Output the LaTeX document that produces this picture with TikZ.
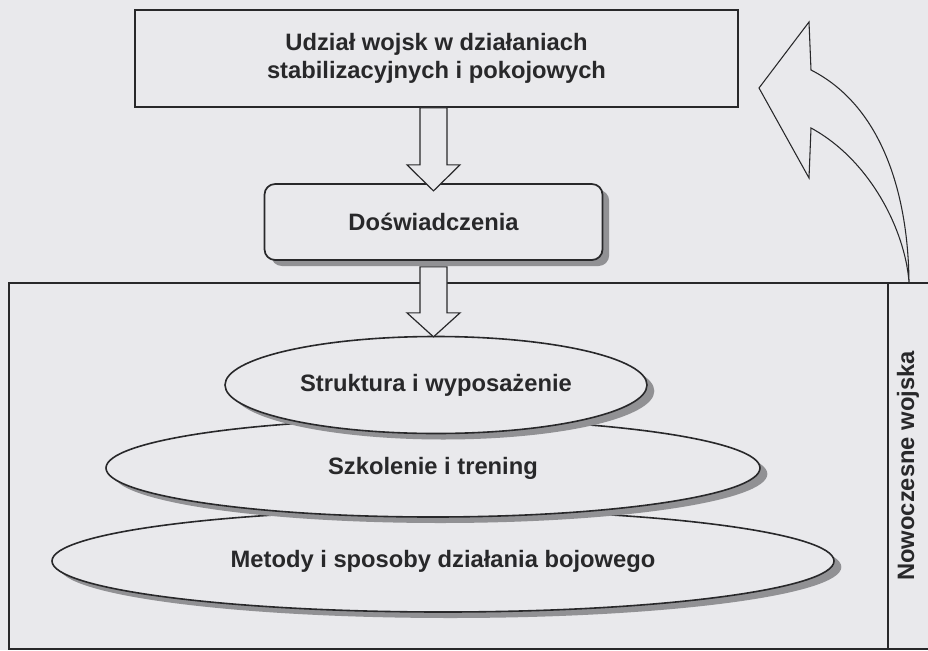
\documentclass[tikz,border=0pt]{standalone}
\usepackage{fontspec}
\setmainfont{Liberation Sans}
\usepackage{tikz}
\usetikzlibrary{calc,positioning,shapes.geometric,shadows}

\definecolor{paper}{RGB}{233,233,236}
\definecolor{ink}{RGB}{40,40,42}
\definecolor{shade}{RGB}{145,145,148}

\begin{document}
\begin{tikzpicture}[
  x=0.75pt, y=-0.75pt,
  font=\fontsize{17.8}{20.5}\selectfont\bfseries,
  every node/.style={text=ink},
  box/.style={draw=ink, line width=1.3pt, fill=paper, align=center, inner sep=0pt},
  layer/.style={ellipse, draw=ink, line width=1.2pt, fill=paper, inner sep=0pt,
    drop shadow={shadow xshift=5.5pt, shadow yshift=-4.5pt, fill=shade, opacity=1}},
  blk/.style={draw=ink, line width=0.9pt, fill=paper, line join=miter},
]
  \useasboundingbox[fill=paper] (0,0) rectangle (928,650);

  % outer frame with side column
  \node[draw=ink, line width=1.3pt, anchor=north west, minimum width=699pt,
    minimum height=274.5pt, inner sep=0pt] (frame) at (8,282) {};
  \node[draw=ink, line width=1.3pt, anchor=north west, minimum width=60pt,
    minimum height=274.5pt, inner sep=0pt] (col) at (887,282) {};
  \node[rotate=90] (modern) at (908,466) {Nowoczesne wojska};

  % stacked layers
  \node[layer, minimum width=586.5pt, minimum height=76.5pt] (methods) at (443,561)
    {Metody i sposoby działania bojowego};
  \node[layer, minimum width=490.5pt, minimum height=73.5pt] (training) at (433,468)
    {Szkolenie i trening};
  \node[layer, minimum width=316.5pt, minimum height=72.75pt] (structure) at (436,385)
    {Struktura i wyposażenie};

  % top boxes
  \node[box, minimum width=452.25pt, minimum height=72.75pt] (missions) at (436.5,58.5)
    {\raisebox{-2pt}{\shortstack{Udział wojsk w działaniach\\[1pt]stabilizacyjnych i pokojowych}}};
  \node[box, rounded corners=8pt, minimum width=253.5pt, minimum height=57pt,
    drop shadow={shadow xshift=5pt, shadow yshift=-4.5pt, fill=shade, opacity=1}]
    (exp) at (433.5,222) {Doświadczenia};

  % block arrows
  \draw[blk] (missions.south -| exp.north) ++(-13.5,0) -- ++(0,57) -- ++(-13,0)
    -- ++(26.5,26) -- ++(26.5,-26) -- ++(-13,0) -- ++(0,-57) -- cycle;
  \draw[blk] (exp.south) ++(-13.5,6) -- ++(0,46) -- ++(-13,0)
    -- ++(26.5,24) -- ++(26.5,-24) -- ++(-13,0) -- ++(0,-46) -- cycle;

  % curved feedback arrow
  \coordinate (base) at (909,282);
  \draw[blk, line width=0.8pt] (base) .. controls (908,190) and (880,105) .. (811,70)
    -- (809,22) -- (759,88) -- (809,178) -- (811,128)
    .. controls (870,160) and (905,230) .. (base);
\end{tikzpicture}
\end{document}
